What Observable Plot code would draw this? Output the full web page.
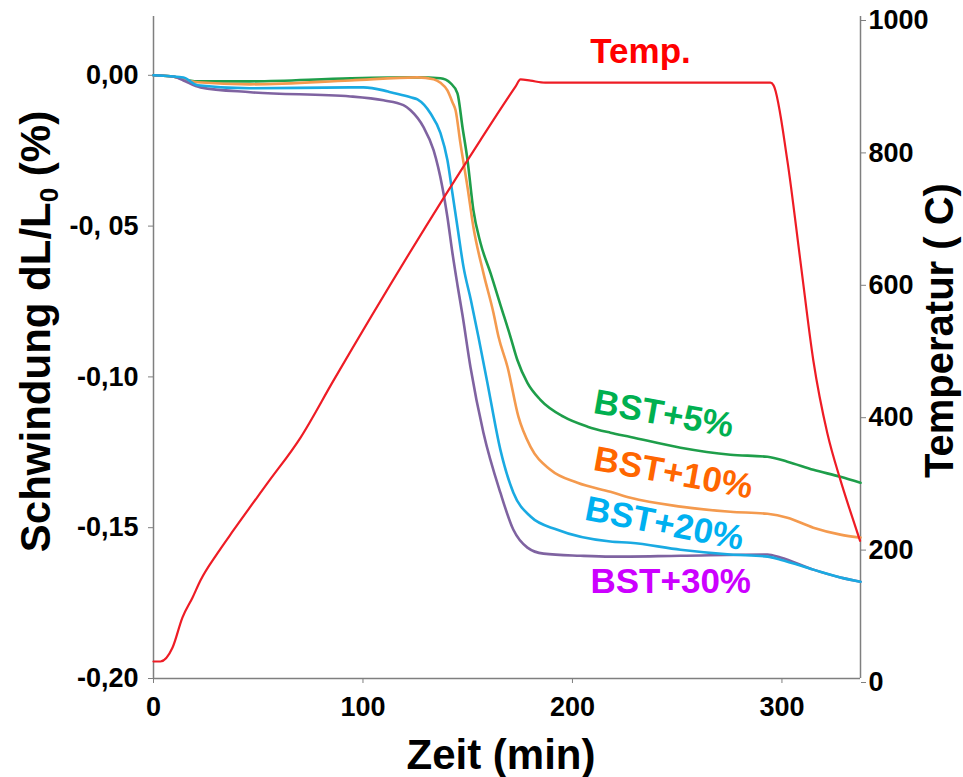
<!DOCTYPE html>
<html><head><meta charset="utf-8">
<script src="https://cdn.jsdelivr.net/npm/d3@7"></script>
<script src="https://cdn.jsdelivr.net/npm/@observablehq/plot@0.6"></script>
<style>body{margin:0;background:#fff} #chart{width:963px;height:777px}</style>
</head><body><div id="chart"></div>
<script>
// ---- data ----
const xDomain = [0, 337.5];
const yDomain = [-0.2, 0.0195];
const xTicks = [0, 100, 200, 300];
const leftTicks = [0, -0.05, -0.1, -0.15, -0.2];
const leftTickLabels = ["0,00", "-0, 05", "-0,10", "-0,15", "-0,20"];
const tempTicks = [0, 200, 400, 600, 800, 1000];

const greenT = [0, 8, 21, 46, 94, 126, 137, 141.8, 145.1, 147.5, 149.9, 152.7, 156.1, 160.9, 165.6, 170.4, 173.7, 178.5, 184.7, 195.7, 207.2, 218.1, 227.7, 251.6, 275.4, 293.1, 302.6, 315, 327.9, 337.5];
const greenV = [0, -0.0003, -0.0020, -0.0020, -0.0010, -0.0007, -0.0010, -0.0026, -0.0060, -0.0172, -0.0281, -0.0447, -0.0556, -0.0656, -0.0761, -0.0867, -0.0944, -0.1020, -0.1076, -0.1132, -0.1165, -0.1185, -0.1199, -0.1235, -0.1258, -0.1265, -0.1281, -0.1308, -0.1331, -0.1351];

const orangeT = [0, 8, 21, 46, 94, 126, 133.7, 137, 140.3, 142.7, 144.2, 146.5, 149.9, 152.7, 157.5, 162.3, 164.7, 169, 174.2, 180, 189.5, 202.4, 218.1, 227.7, 251.6, 275.4, 293.1, 302.6, 315, 327.9, 337.5];
const orangeV = [0, -0.0003, -0.0023, -0.0030, -0.0017, -0.0007, -0.0013, -0.0025, -0.0050, -0.0089, -0.0116, -0.0225, -0.0371, -0.0503, -0.0656, -0.0788, -0.0867, -0.0967, -0.1132, -0.1232, -0.1308, -0.1351, -0.1381, -0.1401, -0.1430, -0.1447, -0.1454, -0.1467, -0.1500, -0.1523, -0.1533];

const blueT = [0, 8, 14.3, 21, 46, 94, 100.2, 109.8, 113.1, 122.7, 126, 132.2, 137, 140.3, 142.7, 145.1, 148, 151.5, 155.1, 159.4, 165.6, 171.8, 180, 192.8, 218.1, 227.7, 251.6, 275.4, 293.1, 299.3, 315, 327.9, 337.5];
const blueV = [0, -0.0003, -0.0007, -0.0033, -0.0043, -0.0040, -0.0040, -0.0050, -0.0056, -0.0073, -0.0080, -0.0126, -0.0192, -0.0281, -0.0391, -0.0503, -0.0636, -0.0745, -0.0867, -0.1020, -0.1242, -0.1384, -0.1463, -0.1507, -0.1546, -0.1550, -0.1573, -0.1589, -0.1596, -0.1606, -0.1639, -0.1665, -0.1679];

const purpleT = [0, 10, 14.3, 22.4, 46.3, 94, 109.8, 119.3, 122.7, 128.9, 133.7, 137.9, 140.3, 142.7, 145.1, 147.5, 151.3, 157.5, 165.6, 171.8, 178.5, 186.2, 203.8, 218.1, 251.6, 293.1, 299.3, 315, 327.9, 337.5];
const purpleV = [0, -0.0005, -0.0017, -0.0040, -0.0056, -0.0070, -0.0083, -0.0099, -0.0116, -0.0172, -0.0248, -0.0371, -0.0470, -0.0589, -0.0695, -0.0795, -0.0967, -0.1185, -0.1384, -0.1507, -0.1566, -0.1586, -0.1593, -0.1596, -0.1593, -0.1589, -0.1599, -0.1639, -0.1665, -0.1679];

const tempT = [0, 3.3, 9.1, 13.8, 18.6, 22.4, 30.5, 38.2, 54.4, 70.2, 85.9, 156, 172.8, 175.2, 180, 187, 213, 294.5, 296, 302.6, 308.8, 315, 321.7, 328, 332.5, 337.3];
const tempC = [25.7, 25.7, 46.8, 92, 122, 148, 189, 224, 295, 364, 450, 813, 894, 905, 903, 900, 900, 900, 896, 782, 631, 480, 370, 299, 254, 208];

const labelNames = ["BST+5%", "BST+10%", "BST+20%", "BST+30%"];
const labelX = [209.5, 209.5, 205.3, 208.6];
const labelY = [-0.1119, -0.1308, -0.1473, -0.1715];
const labelRotate = [10, 10.3, 11, 0];
const labelColors = ["#00B050", "#FF6600", "#00B0F0", "#CC00FF"];
const lineColors = ["#1E9E4A", "#F49A4E", "#1AAAE2", "#7F63A1"];
const tempColor = "#EE1C25";

// ---- helpers ----
const toLeft = T => yDomain[0] + T / 1000 * (yDomain[1] - yDomain[0]);
const fromLeft = v => Math.round((v - yDomain[0]) / (yDomain[1] - yDomain[0]) * 1000);
const series = (ts, vs) => ts.map((t, i) => ({t, v: vs[i]}));
const tempRows = tempT.map((t, i) => ({t, v: toLeft(tempC[i])}));
const labels = labelNames.map((n, i) => ({n, x: labelX[i], y: labelY[i], r: labelRotate[i], c: labelColors[i]}));

const font = "'Liberation Sans', Arial, Helvetica, sans-serif";
const axisGray = "#7f7f7f";

const chart = Plot.plot({
  width: 963, height: 777,
  marginLeft: 153, marginRight: 103, marginTop: 16, marginBottom: 99,
  style: {fontFamily: font, fontWeight: "bold", background: "white", overflow: "visible", color: "black"},
  x: {domain: xDomain},
  y: {domain: yDomain},
  color: {type: "identity"},
  marks: [
    Plot.ruleX(xDomain, {stroke: axisGray, strokeWidth: 1.5}),
    Plot.ruleY([yDomain[0]], {stroke: axisGray, strokeWidth: 1.5}),
    Plot.axisX(xTicks, {anchor: "bottom", tickSize: 5, tickPadding: 13, fontSize: 27, fontWeight: "bold", stroke: axisGray, fill: "black", tickFormat: d => String(d), label: null}),
    Plot.axisY(leftTicks, {anchor: "left", tickSize: 5, tickPadding: 10, fontSize: 27, fontWeight: "bold", stroke: axisGray, fill: "black", tickFormat: d => leftTickLabels[leftTicks.indexOf(d)], label: null}),
    Plot.axisY(tempTicks.map(toLeft), {anchor: "right", tickSize: 5, tickPadding: 3, fontSize: 27, fontWeight: "bold", stroke: axisGray, fill: "black", dy: 4, tickFormat: d => String(fromLeft(d)), label: null}),
    Plot.line(series(greenT, greenV), {x: "t", y: "v", stroke: lineColors[0], strokeWidth: 2.6, curve: "monotone-x"}),
    Plot.line(series(orangeT, orangeV), {x: "t", y: "v", stroke: lineColors[1], strokeWidth: 2.6, curve: "monotone-x"}),
    Plot.line(series(purpleT, purpleV), {x: "t", y: "v", stroke: lineColors[3], strokeWidth: 2.6, curve: "monotone-x"}),
    Plot.line(series(blueT, blueV), {x: "t", y: "v", stroke: lineColors[2], strokeWidth: 2.6, curve: "monotone-x"}),
    Plot.line(tempRows, {x: "t", y: "v", stroke: tempColor, strokeWidth: 2.2, curve: "monotone-x"}),
    Plot.text(labels, {x: "x", y: "y", text: "n", rotate: "r", fill: "c", textAnchor: "start", lineAnchor: "bottom", fontSize: 35, fontWeight: "bold"}),
    Plot.text(["Temp."], {x: 232.5, y: 0.004, textAnchor: "middle", lineAnchor: "bottom", fill: "#FF0000", fontSize: 35, fontWeight: "bold"}),
    Plot.text(["Zeit (min)"], {frameAnchor: "bottom", dx: -6, dy: 90, lineAnchor: "bottom", textAnchor: "middle", fill: "black", fontSize: 42, fontWeight: "bold"}),
    Plot.text(["Schwindung dL/L0 (%)"], {frameAnchor: "left", dx: -104, dy: -16, rotate: -90, lineAnchor: "bottom", textAnchor: "middle", fill: "black", fontSize: 42, fontWeight: "bold"}),
    Plot.text(["Temperatur ( C)"], {frameAnchor: "right", dx: 92, dy: -17, rotate: -90, lineAnchor: "bottom", textAnchor: "middle", fill: "black", fontSize: 40, fontWeight: "bold"})
  ]
});

// subscript "0" in the left axis title
chart.querySelectorAll("text").forEach(t => {
  if (t.textContent === "Schwindung dL/L0 (%)") {
    t.textContent = "";
    const ns = "http://www.w3.org/2000/svg";
    const a = document.createElementNS(ns, "tspan"); a.textContent = "Schwindung dL/L";
    const b = document.createElementNS(ns, "tspan"); b.textContent = "0"; b.setAttribute("font-size", "26"); b.setAttribute("dy", "8");
    const c = document.createElementNS(ns, "tspan"); c.textContent = " (%)"; c.setAttribute("dy", "-8");
    t.append(a, b, c);
  }
});

document.getElementById("chart").append(chart);
</script>
</body></html>
